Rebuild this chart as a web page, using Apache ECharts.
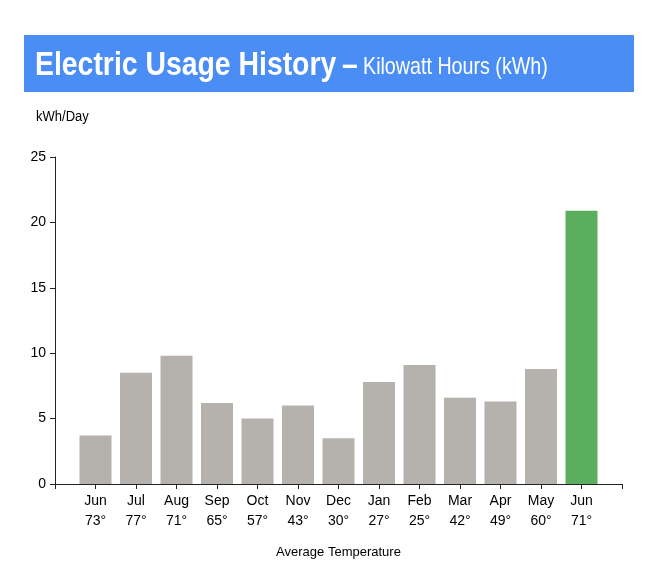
<!DOCTYPE html>
<html>
<head>
<meta charset="utf-8">
<script src="https://cdn.jsdelivr.net/npm/echarts@6/dist/echarts.min.js"></script>
<style>
html,body{margin:0;padding:0;background:#fff;}
#c{width:656px;height:578px;}
</style>
</head>
<body>
<div id="c"></div>
<script>
const months = ['Jun','Jul','Aug','Sep','Oct','Nov','Dec','Jan','Feb','Mar','Apr','May','Jun'];
const temps = ['73°','77°','71°','65°','57°','43°','30°','27°','25°','42°','49°','60°','71°'];
const usage = [3.7, 8.5, 9.8, 6.2, 5.0, 6.0, 3.5, 7.8, 9.1, 6.6, 6.3, 8.8, 20.9];
const yTicks = [0, 5, 10, 15, 20, 25];

const FONT = "'Liberation Sans',Arial,sans-serif";
const GRAY = '#b5b1ad';
const GREEN = '#5aae5e';

// pad one empty slot on each side so the axis extends half a step beyond bars
const cats = [''].concat(months.map((m, i) => m + '\n' + temps[i]), ['']);
const barData = [null].concat(usage.map((v, i) => ({
  value: v,
  itemStyle: { color: i === usage.length - 1 ? GREEN : GRAY }
})), [null]);

const chart = echarts.init(document.getElementById('c'), null, { renderer: 'canvas' });
chart.setOption({
  animation: false,
  backgroundColor: '#fff',
  graphic: [
    { type: 'rect', shape: { x: 24, y: 35, width: 610, height: 57 }, style: { fill: '#4a8ef5' }, z: 0 },
    { type: 'text', x: 35, y: 66, scaleX: 0.86, style: { text: 'Electric Usage History', x: 0, y: 0, fill: '#fff',
        font: 'bold 33px ' + FONT, textVerticalAlign: 'middle' }, z: 1 },
    { type: 'text', x: 342, y: 66, scaleX: 0.86, style: { text: '–', x: 0, y: 0, fill: '#fff',
        font: 'bold 33px ' + FONT, textVerticalAlign: 'middle' }, z: 1 },
    { type: 'text', x: 363, y: 67, scaleX: 0.82, style: { text: 'Kilowatt Hours (kWh)', x: 0, y: 0, fill: '#fff',
        font: '24px ' + FONT, textVerticalAlign: 'middle' }, z: 1 },
    { type: 'text', x: 36, y: 117, scaleX: 0.93, style: { text: 'kWh/Day', x: 0, y: 0, fill: '#000',
        font: '14px ' + FONT, textVerticalAlign: 'middle' }, z: 1 }
  ],
  grid: { left: 55, right: 34, top: 157, bottom: 94, containLabel: false },
  xAxis: {
    type: 'category',
    data: cats,
    boundaryGap: false,
    name: 'Average Temperature',
    nameLocation: 'middle',
    nameGap: 62,
    nameTextStyle: { fontFamily: FONT, fontSize: 13, color: '#000' },
    axisLine: { lineStyle: { color: '#222', width: 1 } },
    axisTick: { show: true, length: 5, interval: 0, lineStyle: { color: '#222' } },
    axisLabel: { interval: 0, fontFamily: FONT, fontSize: 14, color: '#000', lineHeight: 20, margin: 7 },
    splitLine: { show: false }
  },
  yAxis: {
    type: 'value',
    min: yTicks[0],
    max: yTicks[yTicks.length - 1],
    interval: yTicks[1] - yTicks[0],
    axisLine: { show: true, lineStyle: { color: '#222', width: 1 } },
    axisTick: { show: true, length: 5, lineStyle: { color: '#222' } },
    axisLabel: { fontFamily: FONT, fontSize: 14, color: '#000', margin: 9 },
    splitLine: { show: false }
  },
  series: [{
    type: 'bar',
    data: barData,
    barWidth: 32,
    itemStyle: { color: GRAY }
  }]
});
</script>
</body>
</html>
